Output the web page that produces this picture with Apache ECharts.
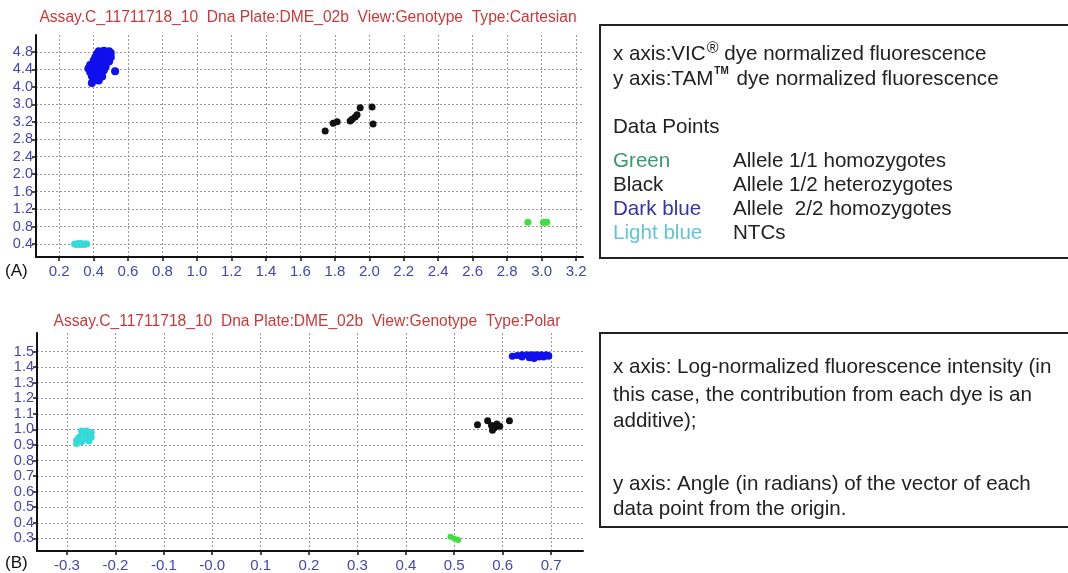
<!DOCTYPE html>
<html><head><meta charset="utf-8">
<script src="https://cdn.jsdelivr.net/npm/echarts@6/dist/echarts.min.js"></script>
<style>html,body{margin:0;padding:0;background:#fff}#c{width:1068px;height:573px}</style>
</head><body><div id="c"></div>
<script>
// ---------- tick values & labels ----------
const topXTicks = [0.2,0.4,0.6,0.8,1.0,1.2,1.4,1.6,1.8,2.0,2.2,2.4,2.6,2.8,3.0,3.2];
const topXLabels = ["0.2","0.4","0.6","0.8","1.0","1.2","1.4","1.6","1.8","2.0","2.2","2.4","2.6","2.8","3.0","3.2"];
const topYTicks = [0.4,0.8,1.2,1.6,2.0,2.4,2.8,3.2,3.6,4.0,4.4,4.8];
const topYLabels = ["0.4","0.8","1.2","1.6","2.0","2.4","2.8","3.2","3.0","4.0","4.4","4.8"];
const botXTicks = [-0.3,-0.2,-0.1,0.0,0.1,0.2,0.3,0.4,0.5,0.6,0.7];
const botXLabels = ["-0.3","-0.2","-0.1","-0.0","0.1","0.2","0.3","0.4","0.5","0.6","0.7"];
const botYTicks = [0.3,0.4,0.5,0.6,0.7,0.8,0.9,1.0,1.1,1.2,1.3,1.4,1.5];
const botYLabels = ["0.3","0.4","0.5","0.6","0.7","0.8","0.9","1.0","1.1","1.2","1.3","1.4","1.5"];

// ---------- data: (A) Cartesian ----------
const topGreen = [[2.92,0.90],[3.01,0.89],[3.03,0.90]];
const topBlack = [[1.744,2.99],[1.79,3.17],[1.813,3.20],[1.889,3.22],[1.918,3.31],[1.929,3.36],[1.947,3.52],[2.016,3.54],[2.022,3.15],[1.90,3.26]];
const topDarkBlue = [[0.43,4.82],[0.46,4.83],[0.49,4.82],[0.50,4.78],[0.42,4.76],[0.45,4.75],[0.48,4.72],[0.41,4.68],[0.44,4.66],[0.47,4.64],[0.50,4.68],[0.40,4.60],[0.43,4.58],[0.46,4.56],[0.49,4.58],[0.38,4.50],[0.41,4.50],[0.44,4.48],[0.47,4.47],[0.37,4.42],[0.40,4.40],[0.43,4.40],[0.46,4.38],[0.38,4.34],[0.41,4.32],[0.44,4.30],[0.39,4.25],[0.42,4.22],[0.45,4.24],[0.40,4.16],[0.43,4.15],[0.39,4.09],[0.525,4.36]];
const topLightBlue = [[0.29,0.40],[0.31,0.41],[0.33,0.41],[0.35,0.40],[0.30,0.39],[0.32,0.39],[0.34,0.39],[0.36,0.40]];

// ---------- data: (B) Polar ----------
const botGreen = [[0.492,0.31],[0.50,0.30],[0.508,0.29]];
const botBlack = [[0.548,1.03],[0.569,1.055],[0.577,1.025],[0.583,1.01],[0.588,1.035],[0.594,1.02],[0.614,1.055],[0.579,0.995]];
const botDarkBlue = [[0.62,1.47],[0.63,1.475],[0.64,1.48],[0.65,1.48],[0.66,1.48],[0.67,1.48],[0.68,1.48],[0.69,1.48],[0.695,1.475],[0.64,1.465],[0.655,1.46],[0.665,1.455],[0.675,1.465],[0.685,1.465],[0.695,1.47],[0.66,1.47]];
const botLightBlue = [[-0.27,0.99],[-0.26,0.99],[-0.25,0.98],[-0.265,0.97],[-0.255,0.96],[-0.275,0.95],[-0.26,0.94],[-0.25,0.95],[-0.28,0.93],[-0.27,0.92],[-0.255,0.925],[-0.28,0.91]];

// ---------- styling ----------
const FONT = '"Liberation Sans", Arial, sans-serif';
const TICK_COLOR = '#4545b0';
const TITLE_COLOR = '#c83a3a';
const BOX_FS = 20.6;
const C_GREEN = '#3ee03e', C_BLACK = '#111111', C_BLUE = '#1010ee', C_CYAN = '#35dada';

function fmt(ticks, labels) {
  return function (v) {
    for (let i = 0; i < ticks.length; i++) if (Math.abs(ticks[i] - v) < 1e-6) return labels[i];
    return '';
  };
}
function xAxisDef(gi, min, max, ticks, labels) {
  return {
    gridIndex: gi, type: 'value', min: min, max: max,
    axisLine: { onZero: false, lineStyle: { color: '#111', width: 2 } },
    axisTick: { customValues: ticks, length: 4, lineStyle: { color: '#111', width: 1.5 } },
    axisLabel: { customValues: ticks, formatter: fmt(ticks, labels), color: TICK_COLOR, fontSize: 15, margin: 7, fontFamily: FONT },
    splitLine: { show: true, lineStyle: { type: [2, 2], color: '#9a9a9a', width: 1 } }
  };
}
function yAxisDef(gi, min, max, ticks, labels) {
  return {
    gridIndex: gi, type: 'value', min: min, max: max,
    axisLine: { show: true, onZero: false, lineStyle: { color: '#111', width: 2 } },
    axisTick: { show: true, customValues: ticks, length: 4, lineStyle: { color: '#111', width: 1.5 } },
    axisLabel: { customValues: ticks, formatter: fmt(ticks, labels), color: TICK_COLOR, fontSize: 14.5, margin: 3, fontFamily: FONT },
    splitLine: { show: true, lineStyle: { type: [2, 2], color: '#9a9a9a', width: 1 } }
  };
}
function sc(xi, data, color, size) {
  return { type: 'scatter', xAxisIndex: xi, yAxisIndex: xi, data: data, symbolSize: size, itemStyle: { color: color, opacity: 1 }, silent: true };
}
function txt(x, y, text, size, color, align) {
  return { type: 'text', x: x, y: y, silent: true,
    style: { text: text, fontSize: size, fontFamily: FONT, fill: color, verticalAlign: 'middle', align: align || 'left' } };
}

const chart = echarts.init(document.getElementById('c'), null, { renderer: 'canvas' });
chart.setOption({
  animation: false,
  backgroundColor: '#ffffff',
  grid: [
    { left: 36, top: 35, width: 547, height: 222, containLabel: false },
    { left: 37, top: 333, width: 546, height: 224, containLabel: false }
  ],
  xAxis: [
    xAxisDef(0, 0.066, 3.24, topXTicks, topXLabels),
    xAxisDef(1, -0.362, 0.766, botXTicks, botXLabels)
  ],
  yAxis: [
    yAxisDef(0, 0.102, 5.19, topYTicks, topYLabels),
    yAxisDef(1, 0.219, 1.619, botYTicks, botYLabels)
  ],
  series: [
    sc(0, topDarkBlue, C_BLUE, 8),
    sc(0, topBlack, C_BLACK, 7),
    sc(0, topGreen, C_GREEN, 7),
    sc(0, topLightBlue, C_CYAN, 7),
    sc(1, botDarkBlue, C_BLUE, 7),
    sc(1, botBlack, C_BLACK, 7),
    sc(1, botGreen, C_GREEN, 6),
    sc(1, botLightBlue, C_CYAN, 7)
  ],
  graphic: [
    // chart titles
    txt(308, 18, 'Assay.C_11711718_10  Dna Plate:DME_02b  View:Genotype  Type:Cartesian', 15.6, TITLE_COLOR, 'center'),
    txt(307, 322, 'Assay.C_11711718_10  Dna Plate:DME_02b  View:Genotype  Type:Polar', 15.6, TITLE_COLOR, 'center'),
    // panel labels
    txt(5, 271, '(A)', 17, '#111'),
    txt(5, 563, '(B)', 17, '#111'),
    // box A
    { type: 'rect', silent: true, shape: { x: 600, y: 25, width: 480, height: 233 }, style: { fill: 'none', stroke: '#222', lineWidth: 2 } },
    { type: 'text', x: 613, y: 53, silent: true, style: { text: '{a|x axis:VIC}{s|®}{a| dye normalized fluorescence}', fontFamily: FONT, verticalAlign: 'middle',
      rich: { a: { fontSize: BOX_FS, fill: '#222', fontFamily: FONT, lineHeight: 24, verticalAlign: 'bottom' }, s: { fontSize: 16, fill: '#222', fontFamily: FONT, lineHeight: 24, verticalAlign: 'top', padding: [0, 0, 0, 1] } } } },
    { type: 'text', x: 613, y: 78, silent: true, style: { text: '{a|y axis:TAM}{s|TM}{a| dye normalized fluorescence}', fontFamily: FONT, verticalAlign: 'middle',
      rich: { a: { fontSize: BOX_FS, fill: '#222', fontFamily: FONT, lineHeight: 24, verticalAlign: 'bottom' }, s: { fontSize: 10, fontWeight: 'bold', fill: '#222', fontFamily: FONT, lineHeight: 24, verticalAlign: 'top', padding: [0, 2, 0, 1] } } } },
    txt(613, 127, 'Data Points', BOX_FS, '#222'),
    txt(613, 161, 'Green', BOX_FS, '#3a9a6e'),
    txt(613, 185, 'Black', BOX_FS, '#222'),
    txt(613, 209, 'Dark blue', BOX_FS, '#3434a6'),
    txt(613, 233, 'Light blue', BOX_FS, '#62c4d6'),
    txt(733, 161, 'Allele 1/1 homozygotes', BOX_FS, '#222'),
    txt(733, 185, 'Allele 1/2 heterozygotes', BOX_FS, '#222'),
    txt(733, 209, 'Allele  2/2 homozygotes', BOX_FS, '#222'),
    txt(733, 233, 'NTCs', BOX_FS, '#222'),
    // box B
    { type: 'rect', silent: true, shape: { x: 600, y: 333, width: 480, height: 194 }, style: { fill: 'none', stroke: '#222', lineWidth: 2 } },
    txt(613, 367, 'x axis: Log-normalized fluorescence intensity (in', BOX_FS, '#222'),
    txt(613, 395, 'this case, the contribution from each dye is an', BOX_FS, '#222'),
    txt(613, 421, 'additive);', BOX_FS, '#222'),
    txt(613, 484, 'y axis: Angle (in radians) of the vector of each', BOX_FS, '#222'),
    txt(613, 509, 'data point from the origin.', BOX_FS, '#222')
  ]
});
</script>
</body></html>
